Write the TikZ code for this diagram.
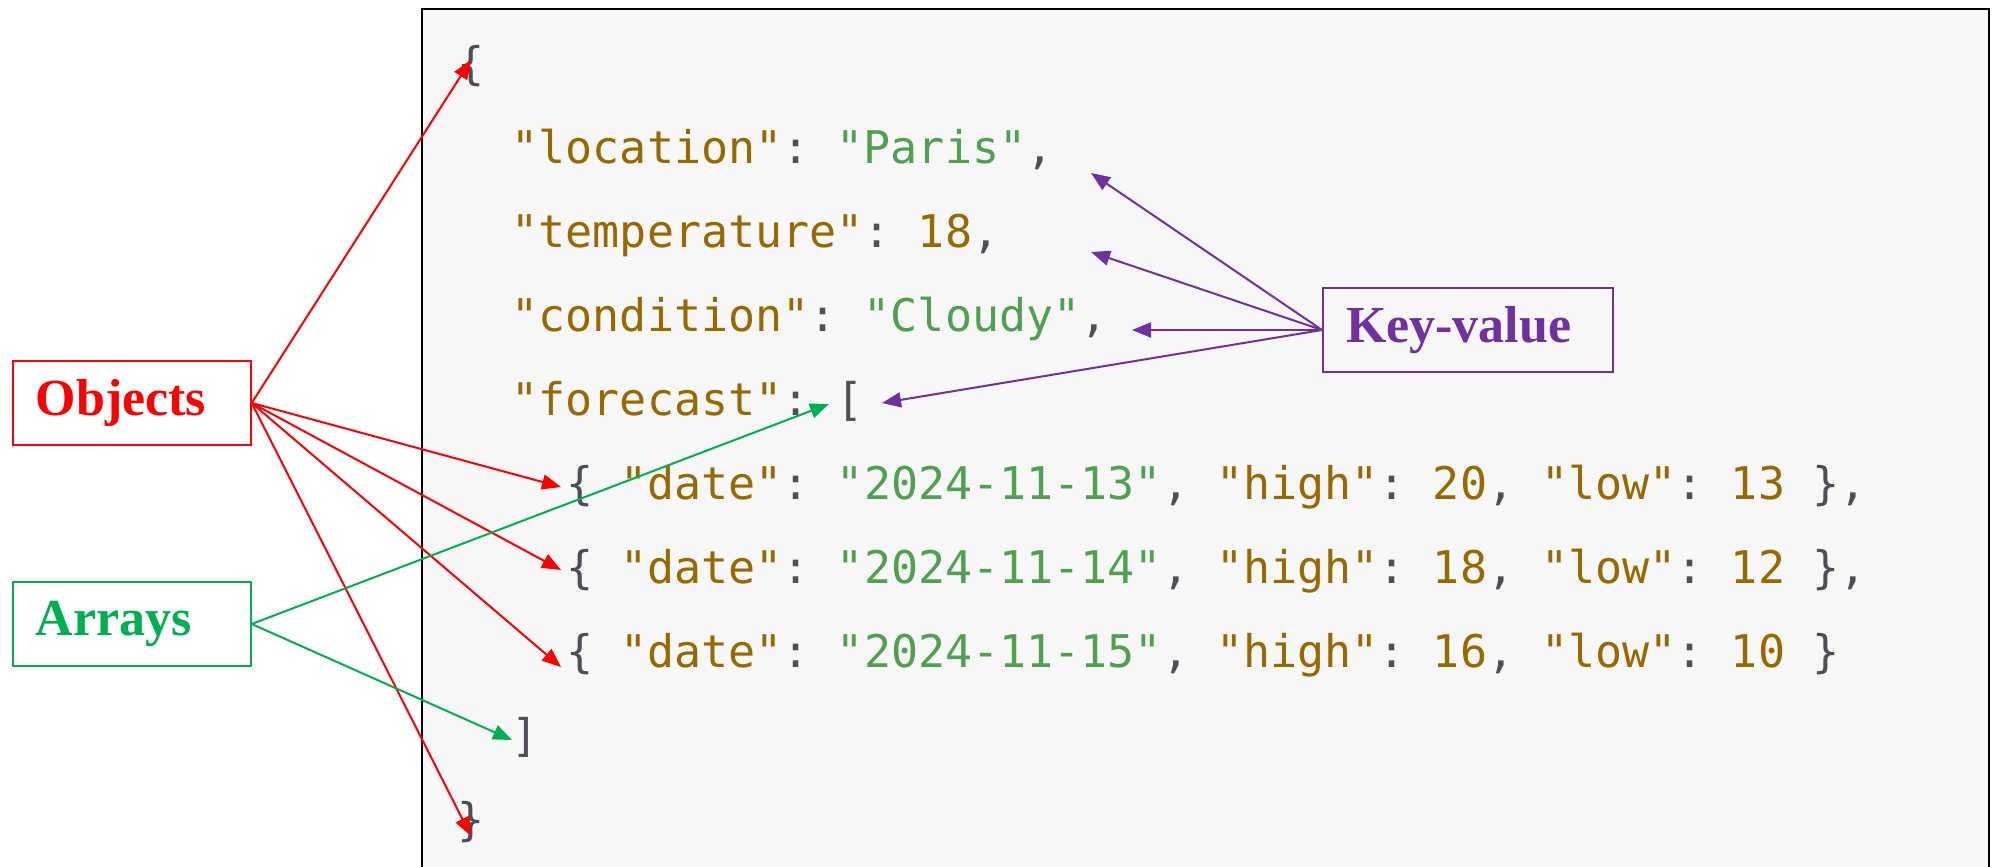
\documentclass[tikz,border=0pt]{standalone}
\usepackage{fontspec}
\setmainfont{Liberation Serif}
\newfontfamily\codefont{DejaVu Sans Mono}
\usetikzlibrary{arrows.meta}

\definecolor{objred}{HTML}{FF0000}
\definecolor{arrgreen}{HTML}{00B050}
\definecolor{kvpurple}{HTML}{7030A0}
\definecolor{jkey}{HTML}{986801}
\definecolor{jstr}{HTML}{50A14F}
\definecolor{jpunct}{HTML}{4B5057}
\definecolor{codebg}{HTML}{F7F7F7}

\newcommand{\jk}[1]{\textcolor{jkey}{"#1"}}
\newcommand{\js}[1]{\textcolor{jstr}{"#1"}}
\newcommand{\jn}[1]{\textcolor{jkey}{#1}}

\tikzset{
  tag/.style={draw, line width=2pt, minimum height=84pt, inner xsep=23pt, align=left,
    font=\fontsize{52}{60}\selectfont\bfseries},
  code/.style={anchor=base west, inner sep=0pt, text=jpunct,
    font=\codefont\fontsize{45}{54}\selectfont\frenchspacing},
  pointer/.style={line width=2pt, -{Triangle[length=19pt,width=15pt]}}
}

\begin{document}
\begin{tikzpicture}[x=1pt,y=-1pt]
    \useasboundingbox (0,0) rectangle (1995,867);
    \draw[line width=2.5pt, fill=codebg] (422,9) rectangle (1989,890);

    % json lines
    \node [code] (l1) at (457,79) {\{};
    \node [code] (l2) at (511.4,163) {\jk{location}: \js{Paris},};
    \node [code] (l3) at (511.4,247) {\jk{temperature}: \jn{18},};
    \node [code] (l4) at (511.4,331) {\jk{condition}: \js{Cloudy},};
    \node [code] (l5) at (511.4,415) {\jk{forecast}: [};
    \node [code] (l6) at (565.8,499) {\{ \jk{date}: \js{2024-11-13}, \jk{high}: \jn{20}, \jk{low}: \jn{13} \},};
    \node [code] (l7) at (565.8,583) {\{ \jk{date}: \js{2024-11-14}, \jk{high}: \jn{18}, \jk{low}: \jn{12} \},};
    \node [code] (l8) at (565.8,667) {\{ \jk{date}: \js{2024-11-15}, \jk{high}: \jn{16}, \jk{low}: \jn{10} \}};
    \node [code] (l9) at (511.4,751) {]};
    \node [code] (l10) at (457,835) {\}};

    % labels
    \node [tag, draw=objred, text=objred, text width=192pt] (obj) at (131.7,403) {Objects};
    \node [tag, draw=arrgreen, text=arrgreen, text width=192pt] (arr) at (131.7,624) {Arrays};
    \node [tag, draw=kvpurple, text=kvpurple, text width=244pt] (kv) at (1468,330) {Key-value};

    \coordinate (tOpen) at (471,60);
    \coordinate (tObjA) at (561,487);
    \coordinate (tObjB) at (561,570);
    \coordinate (tObjC) at (561,667);
    \coordinate (tClose) at (471,836);
    \coordinate (tArrOpen) at (829,404);
    \coordinate (tArrClose) at (512,740);
    \coordinate (tLoc) at (1091,173);
    \coordinate (tTemp) at (1091,252);
    \coordinate (tCond) at (1132,330);
    \coordinate (tFore) at (882,403);

    \path [objred] (obj.east) edge [pointer] (tOpen);
    \path [objred] (obj.east) edge [pointer] (tObjA);
    \path [objred] (obj.east) edge [pointer] (tObjB);
    \path [objred] (obj.east) edge [pointer] (tObjC);
    \path [objred] (obj.east) edge [pointer] (tClose);
    \path [arrgreen] (arr.east) edge [pointer] (tArrOpen);
    \path [arrgreen] (arr.east) edge [pointer] (tArrClose);
    \path [kvpurple] (kv.west) edge [pointer] (tLoc);
    \path [kvpurple] (kv.west) edge [pointer] (tTemp);
    \path [kvpurple] (kv.west) edge [pointer] (tCond);
    \path [kvpurple] (kv.west) edge [pointer] (tFore);
\end{tikzpicture}
\end{document}
